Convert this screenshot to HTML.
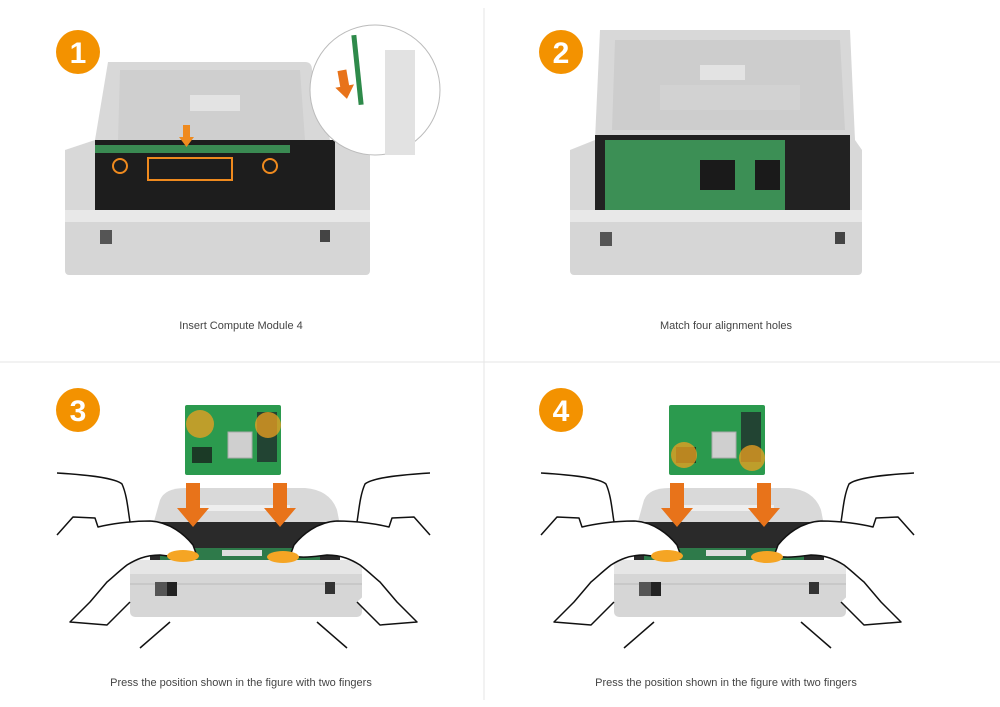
<!DOCTYPE html>
<html><head><style>
html,body{margin:0;padding:0;background:#fff;}
svg{display:block;font-family:"Liberation Sans",sans-serif;}
</style></head><body>
<svg width="1000" height="707" viewBox="0 0 1000 707">
<defs>
<g id="lhand">
  <path d="M57 473 C90 475 115 478 122 484 C127 495 128 510 130 522" fill="none" stroke="#111" stroke-width="1.5"/>
  <path d="M57 535 L73 517 L95 518 L98 527 C110 524 130 521 150 521 C170 522 185 535 193 545 L197 556 C185 558 175 557 160 555 C145 555 135 560 127 565 C118 572 112 578 107 582 L90 602 L70 622 L107 625 L130 602" fill="#fff" stroke="#111" stroke-width="1.5" stroke-linejoin="round"/>
  <path d="M140 648 L170 622" fill="none" stroke="#111" stroke-width="1.5"/>
</g>
<g id="hand">
  <rect x="185" y="405" width="96" height="70" fill="#2b9a4e" rx="2"/>
  <rect x="228" y="432" width="24" height="26" fill="#cfcfcf" stroke="#aaa"/>
  <rect x="257" y="412" width="20" height="50" fill="#243"/>
  <rect x="192" y="447" width="20" height="16" fill="#1b3a26"/>
  <path d="M153 525 L160 500 Q165 488 185 488 L305 488 Q330 490 337 510 L340 525 Z" fill="#d9d9d9"/>
  <rect x="200" y="505" width="90" height="6" fill="#eee"/>
  <rect x="150" y="522" width="190" height="38" fill="#2a2a2a"/>
  <rect x="160" y="548" width="160" height="14" fill="#2e7a4a"/>
  <rect x="222" y="550" width="40" height="6" fill="#ddd"/>
  <rect x="130" y="560" width="232" height="57" fill="#d6d6d6" rx="5"/>
  <rect x="130" y="560" width="232" height="14" fill="#e6e6e6"/>
  <line x1="130" y1="584" x2="362" y2="584" stroke="#bbb"/>
  <rect x="155" y="582" width="12" height="14" fill="#555"/>
  <rect x="167" y="582" width="10" height="14" fill="#222"/>
  <rect x="325" y="582" width="10" height="12" fill="#333"/>
  <use href="#lhand"/>
  <use href="#lhand" transform="translate(487,0) scale(-1,1)"/>
  <path d="M186 483 h14 v25 h9 l-16 19 l-16 -19 h9 z" fill="#e8731a"/>
  <path d="M273 483 h14 v25 h9 l-16 19 l-16 -19 h9 z" fill="#e8731a"/>
  <ellipse cx="183" cy="556" rx="16" ry="6" fill="#f5a524"/>
  <ellipse cx="283" cy="557" rx="16" ry="6" fill="#f5a524"/>
</g>
</defs>
<line x1="484" y1="8" x2="484" y2="700" stroke="#e6e6e6" stroke-width="1"/>
<line x1="0" y1="362" x2="1000" y2="362" stroke="#e6e6e6" stroke-width="1"/>

<path d="M108 62 L305 62 Q312 62 312 70 L330 140 L370 150 L370 215 L65 215 L65 150 L95 140 Z" fill="#d8d8d8"/>
<path d="M120 70 L300 70 L305 140 L118 140 Z" fill="#cfcfcf"/>
<rect x="190" y="95" width="50" height="16" fill="#e3e3e3"/>
<rect x="95" y="140" width="240" height="70" fill="#1d1d1d"/>
<rect x="95" y="145" width="195" height="8" fill="#3a8a52"/>
<rect x="148" y="158" width="84" height="22" fill="none" stroke="#ef8a1e" stroke-width="2"/>
<circle cx="120" cy="166" r="7" fill="none" stroke="#ef8a1e" stroke-width="2"/>
<circle cx="270" cy="166" r="7" fill="none" stroke="#ef8a1e" stroke-width="2"/>
<path d="M183 125 h7 v12 h4 l-7.5 10 l-7.5 -10 h4 z" fill="#ef8a1e"/>
<rect x="65" y="210" width="305" height="65" fill="#d6d6d6" rx="4"/>
<rect x="65" y="210" width="305" height="12" fill="#e8e8e8"/>
<rect x="100" y="230" width="12" height="14" fill="#555"/>
<rect x="320" y="230" width="10" height="12" fill="#444"/>
<circle cx="375" cy="90" r="65" fill="#fff" stroke="#bbb" stroke-width="1"/>
<rect x="385" y="50" width="30" height="105" fill="#e2e2e2"/>
<rect x="355" y="35" width="5" height="70" fill="#2e8a4a" transform="rotate(-6 357 70)"/>
<path d="M340 70 h9 v16 h5 l-9.5 13 l-9.5 -13 h5 z" fill="#e8731a" transform="rotate(-10 345 85)"/>

<path d="M600 30 L850 30 L855 140 L862 150 L862 215 L570 215 L570 150 L595 140 Z" fill="#d8d8d8"/>
<path d="M615 40 L840 40 L845 130 L612 130 Z" fill="#cdcdcd"/>
<rect x="700" y="65" width="45" height="15" fill="#e3e3e3"/>
<rect x="660" y="85" width="140" height="25" fill="#d2d2d2"/>
<rect x="595" y="135" width="255" height="75" fill="#222"/>
<rect x="605" y="140" width="180" height="70" fill="#3c8f55"/>
<rect x="700" y="160" width="35" height="30" fill="#1a1a1a"/>
<rect x="755" y="160" width="25" height="30" fill="#1a1a1a"/>
<rect x="570" y="210" width="292" height="65" fill="#d6d6d6" rx="4"/>
<rect x="570" y="210" width="292" height="12" fill="#e8e8e8"/>
<rect x="600" y="232" width="12" height="14" fill="#555"/>
<rect x="835" y="232" width="10" height="12" fill="#444"/>

<use href="#hand"/>
<g opacity="0.75">
<circle cx="200" cy="424" r="14" fill="#f0a020"/>
<circle cx="268" cy="425" r="13" fill="#f0a020"/>
</g>
<use href="#hand" transform="translate(484,0)"/>
<g opacity="0.75">
<circle cx="684" cy="455" r="13" fill="#f0a020"/>
<circle cx="752" cy="458" r="13" fill="#f0a020"/>
</g>

<g font-weight="bold" font-size="30" fill="#fff" text-anchor="middle">
<circle cx="78" cy="52" r="22" fill="#f39200"/><text x="78" y="63">1</text>
<circle cx="561" cy="52" r="22" fill="#f39200"/><text x="561" y="63">2</text>
<circle cx="78" cy="410" r="22" fill="#f39200"/><text x="78" y="421">3</text>
<circle cx="561" cy="410" r="22" fill="#f39200"/><text x="561" y="421">4</text>
</g>

<g font-size="11" fill="#444" text-anchor="middle">
<text x="241" y="329">Insert Compute Module 4</text>
<text x="726" y="329">Match four alignment holes</text>
<text x="241" y="686">Press the position shown in the figure with two fingers</text>
<text x="726" y="686">Press the position shown in the figure with two fingers</text>
</g>
</svg>
</body></html>
